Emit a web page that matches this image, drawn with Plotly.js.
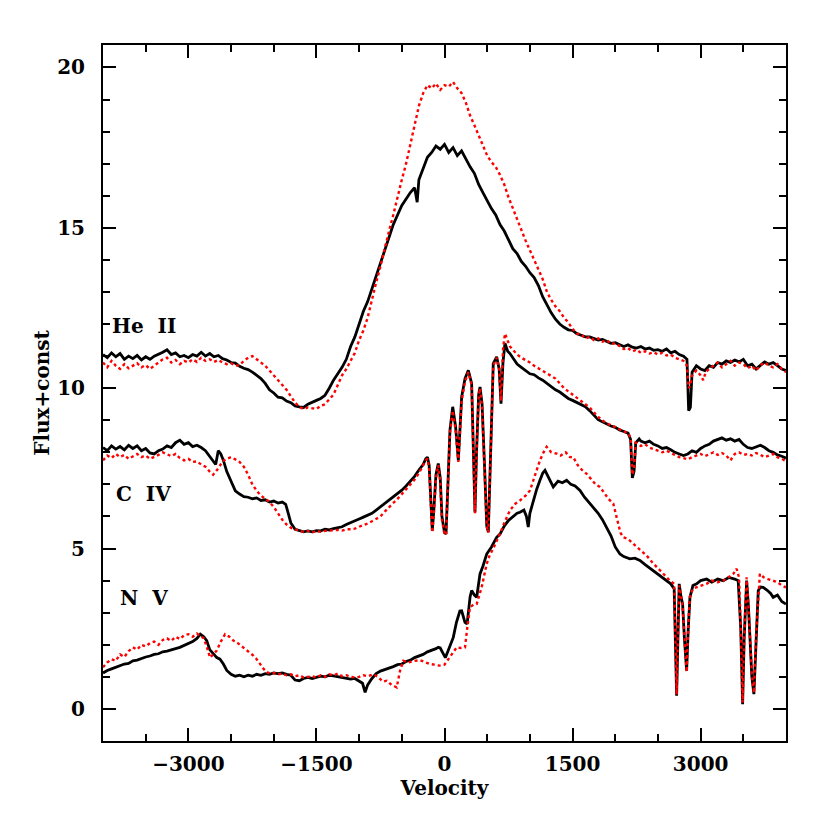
<!DOCTYPE html>
<html>
<head>
<meta charset="utf-8">
<script src="https://cdn.plot.ly/plotly-3.0.1.min.js"></script>
<style>
  html, body { margin: 0; padding: 0; background: #fff; }
  #chart { width: 830px; height: 830px; }
</style>
</head>
<body>
<div id="chart"></div>
<script>
// He II profile (upper pair)
const heVelBlack = [-4000,-3950,-3900,-3850,-3800,-3750,-3700,-3650,-3600,-3550,-3500,-3450,-3400,-3350,-3300,-3250,-3200,-3150,-3100,-3050,-3000,-2950,-2900,-2850,-2800,-2750,-2700,-2650,-2600,-2550,-2500,-2450,-2400,-2350,-2300,-2250,-2200,-2150,-2100,-2050,-2000,-1950,-1900,-1850,-1800,-1750,-1700,-1650,-1600,-1550,-1500,-1450,-1400,-1350,-1300,-1250,-1200,-1150,-1100,-1050,-1000,-950,-900,-850,-800,-750,-700,-650,-600,-550,-500,-450,-400,-350,-320,-300,-250,-200,-150,-100,-50,0,50,100,150,200,250,300,350,400,450,500,550,600,650,700,750,800,850,900,950,1000,1050,1100,1150,1200,1250,1300,1350,1400,1450,1500,1550,1600,1650,1700,1750,1800,1850,1900,1950,2000,2050,2100,2150,2200,2250,2300,2350,2400,2450,2500,2550,2600,2650,2700,2750,2800,2840,2860,2880,2900,2950,3000,3050,3100,3150,3200,3250,3300,3350,3400,3450,3500,3550,3600,3650,3700,3750,3800,3850,3900,3950,4000];
const heFluxBlack = [11.05,10.95,11.1,10.98,11.08,10.9,11.0,10.92,11.02,10.88,10.98,10.9,11.0,11.05,11.12,11.2,11.05,11.1,10.98,11.02,10.95,11.05,11.0,11.12,11.0,11.08,10.98,11.02,10.92,10.88,10.8,10.78,10.68,10.62,10.58,10.5,10.4,10.3,10.15,9.95,9.85,9.72,9.7,9.6,9.55,9.45,9.42,9.4,9.5,9.55,9.62,9.68,9.78,10.0,10.25,10.45,10.65,10.9,11.3,11.6,12.0,12.4,12.7,13.1,13.5,13.9,14.3,14.7,15.1,15.4,15.7,15.9,16.1,16.25,15.8,16.5,16.85,17.2,17.35,17.55,17.45,17.6,17.35,17.5,17.25,17.4,17.15,16.9,16.7,16.35,16.1,15.85,15.6,15.4,15.1,14.9,14.6,14.35,14.2,13.95,13.8,13.6,13.45,13.2,12.85,12.6,12.35,12.15,12.0,11.9,11.82,11.8,11.7,11.65,11.6,11.6,11.55,11.5,11.52,11.45,11.4,11.42,11.35,11.3,11.35,11.28,11.25,11.3,11.22,11.25,11.18,11.2,11.15,11.22,11.1,11.15,11.05,11.0,10.9,9.3,9.4,10.5,10.7,10.6,10.55,10.7,10.65,10.8,10.75,10.85,10.8,10.88,10.82,10.9,10.7,10.75,10.6,10.7,10.82,10.75,10.8,10.7,10.6,10.55];

const heVelRed = [-4000,-3950,-3900,-3850,-3800,-3750,-3700,-3650,-3600,-3550,-3500,-3450,-3400,-3350,-3300,-3250,-3200,-3150,-3100,-3050,-3000,-2950,-2900,-2850,-2800,-2750,-2700,-2650,-2600,-2550,-2500,-2450,-2400,-2350,-2300,-2250,-2200,-2150,-2100,-2050,-2000,-1950,-1900,-1850,-1800,-1750,-1700,-1650,-1600,-1550,-1500,-1450,-1400,-1350,-1300,-1250,-1200,-1150,-1100,-1050,-1000,-950,-900,-850,-800,-750,-700,-650,-600,-550,-500,-450,-400,-350,-300,-250,-200,-150,-100,-50,0,50,100,150,200,250,300,350,400,450,500,550,600,650,700,750,800,850,900,950,1000,1050,1100,1150,1200,1250,1300,1350,1400,1450,1500,1550,1600,1650,1700,1750,1800,1850,1900,1950,2000,2050,2100,2150,2200,2250,2300,2350,2400,2450,2500,2550,2600,2650,2700,2750,2800,2840,2860,2880,2900,2950,3000,3030,3060,3100,3150,3200,3250,3300,3350,3400,3450,3500,3550,3600,3650,3700,3750,3800,3850,3900,3950,4000];
const heFluxRed = [10.8,10.65,10.85,10.7,10.6,10.75,10.62,10.7,10.78,10.65,10.72,10.6,10.7,10.82,10.9,10.95,10.8,10.88,10.75,10.85,10.8,10.9,10.82,10.95,10.85,10.9,10.82,10.88,10.8,10.75,10.78,10.7,10.72,10.85,10.95,11.0,10.9,10.8,10.7,10.55,10.4,10.25,10.1,9.95,9.75,9.55,9.42,9.35,9.4,9.38,9.35,9.45,9.5,9.65,9.8,10.1,10.4,10.6,10.85,11.1,11.5,11.8,12.2,12.8,13.3,13.8,14.4,14.9,15.4,16.0,16.5,17.0,17.6,18.2,18.8,19.2,19.45,19.35,19.5,19.3,19.45,19.4,19.55,19.35,19.2,18.9,18.5,18.2,17.9,17.55,17.25,17.05,16.9,16.65,16.35,15.95,15.6,15.25,14.95,14.6,14.3,14.0,13.7,13.4,13.0,12.75,12.55,12.4,12.2,12.05,11.85,11.7,11.68,11.55,11.6,11.5,11.55,11.45,11.5,11.38,11.4,11.3,11.22,11.25,11.15,11.2,11.1,11.15,11.08,11.12,11.05,11.1,11.02,11.05,10.95,10.9,10.85,10.7,10.0,10.1,10.4,10.55,10.4,10.25,10.5,10.6,10.7,10.8,10.65,10.75,10.85,10.7,10.8,10.75,10.62,10.7,10.55,10.72,10.8,10.7,10.65,10.75,10.6,10.5];

// C IV profile (middle pair)
const cVelBlack = [-4000,-3950,-3900,-3850,-3800,-3750,-3700,-3650,-3600,-3550,-3500,-3450,-3400,-3350,-3300,-3250,-3200,-3150,-3100,-3050,-3000,-2950,-2900,-2850,-2800,-2750,-2700,-2680,-2650,-2620,-2590,-2550,-2500,-2450,-2400,-2350,-2300,-2250,-2200,-2150,-2100,-2050,-2000,-1950,-1900,-1860,-1830,-1800,-1750,-1700,-1650,-1600,-1550,-1500,-1450,-1400,-1350,-1300,-1250,-1200,-1150,-1100,-1050,-1000,-950,-900,-850,-800,-750,-700,-650,-600,-550,-500,-450,-400,-350,-300,-250,-220,-200,-180,-160,-143,-125,-100,-73,-50,-30,0,18,40,64,96,130,162,201,240,279,318,340,357,375,400,416,440,470,495,513,535,571,611,640,662,685,708,740,767,800,850,900,950,1000,1050,1100,1150,1200,1250,1300,1350,1400,1450,1500,1550,1600,1650,1700,1750,1800,1850,1900,1950,2000,2050,2100,2150,2180,2200,2220,2240,2280,2300,2350,2400,2450,2500,2550,2600,2650,2700,2750,2800,2850,2900,2950,3000,3050,3100,3150,3200,3250,3300,3350,3400,3450,3500,3550,3600,3650,3700,3750,3800,3850,3900,3950,4000];
const cFluxBlack = [8.15,8.05,8.2,8.1,8.18,8.08,8.22,8.12,8.2,8.05,8.12,7.98,7.95,8.05,8.1,8.2,8.15,8.3,8.38,8.25,8.3,8.18,8.22,8.15,8.05,7.88,7.7,7.62,8.05,7.95,7.75,7.4,7.1,6.8,6.7,6.62,6.6,6.55,6.58,6.5,6.52,6.45,6.48,6.42,6.45,6.38,6.1,5.8,5.6,5.55,5.52,5.55,5.52,5.56,5.55,5.6,5.58,5.62,5.65,5.68,5.75,5.8,5.85,5.92,5.98,6.05,6.1,6.2,6.3,6.4,6.5,6.6,6.7,6.82,6.95,7.1,7.25,7.45,7.62,7.8,7.85,7.6,6.5,5.56,6.2,7.3,7.65,7.2,6.0,5.5,5.46,7.0,8.69,9.42,8.8,7.75,9.73,10.3,10.56,10.15,8.0,6.13,8.0,9.8,10.04,9.5,7.5,5.7,5.51,7.5,10.77,10.98,10.6,9.52,10.8,11.4,11.15,11.08,10.95,10.75,10.65,10.55,10.45,10.42,10.32,10.25,10.15,10.05,9.95,9.88,9.78,9.68,9.62,9.55,9.5,9.42,9.3,9.15,9.02,8.95,8.88,8.82,8.78,8.7,8.65,8.6,8.4,7.2,7.4,8.3,8.42,8.35,8.3,8.35,8.25,8.2,8.12,8.15,8.08,8.0,7.95,7.9,7.95,8.05,8.0,8.12,8.2,8.25,8.35,8.4,8.45,8.38,8.42,8.35,8.4,8.25,8.15,8.12,8.18,8.22,8.15,8.05,8.0,7.92,7.88,7.82];

const cVelRed = [-4000,-3950,-3900,-3850,-3800,-3750,-3700,-3650,-3600,-3550,-3500,-3450,-3400,-3350,-3300,-3250,-3200,-3150,-3100,-3050,-3000,-2950,-2900,-2850,-2800,-2750,-2710,-2650,-2600,-2550,-2500,-2450,-2400,-2350,-2300,-2250,-2200,-2150,-2100,-2050,-2000,-1950,-1900,-1850,-1800,-1750,-1700,-1650,-1600,-1550,-1500,-1450,-1400,-1350,-1300,-1250,-1200,-1150,-1100,-1050,-1000,-950,-900,-850,-800,-750,-700,-650,-600,-550,-500,-450,-400,-350,-300,-250,-220,-200,-180,-160,-143,-125,-100,-73,-50,-30,0,18,40,64,96,130,162,201,240,279,318,340,357,375,400,416,440,470,495,513,535,571,611,640,662,685,708,740,767,800,850,900,950,1000,1050,1100,1150,1200,1250,1300,1350,1400,1450,1500,1550,1600,1650,1700,1750,1800,1850,1900,1950,2000,2050,2100,2150,2180,2200,2220,2240,2280,2300,2350,2400,2450,2500,2550,2600,2650,2700,2750,2800,2850,2900,2950,3000,3050,3100,3150,3200,3250,3300,3350,3400,3450,3500,3550,3600,3650,3700,3750,3800,3850,3900,3950,4000];
const cFluxRed = [7.75,7.9,7.82,7.95,7.85,7.92,7.8,7.88,7.95,7.85,7.9,7.8,7.85,7.92,8.0,7.95,7.88,7.95,7.82,7.75,7.8,7.7,7.72,7.62,7.55,7.4,7.3,7.5,7.72,7.8,7.85,7.78,7.7,7.55,7.3,7.0,6.8,6.65,6.55,6.45,6.3,6.1,5.9,5.75,5.65,5.6,5.55,5.52,5.55,5.5,5.55,5.52,5.55,5.56,5.55,5.58,5.56,5.6,5.6,5.62,5.68,5.72,5.78,5.85,5.92,6.0,6.15,6.3,6.42,6.55,6.7,6.85,7.0,7.15,7.35,7.6,7.75,7.8,7.5,6.4,5.5,6.1,7.2,7.6,7.1,5.9,5.45,5.42,6.9,8.6,9.3,8.7,7.7,9.6,10.2,10.5,10.1,7.9,6.1,7.9,9.7,10.0,9.4,7.4,5.7,5.5,7.4,10.7,10.95,10.6,9.6,11.2,11.7,11.5,11.3,11.2,11.05,10.95,10.88,10.8,10.7,10.62,10.55,10.45,10.38,10.3,10.15,10.0,9.9,9.8,9.7,9.6,9.52,9.4,9.25,9.1,9.0,8.9,8.85,8.78,8.72,8.65,8.6,8.45,7.3,7.5,8.3,8.25,8.2,8.25,8.15,8.1,8.05,8.0,8.05,7.98,7.9,7.85,7.82,7.78,7.85,7.9,7.95,7.88,7.95,8.0,7.92,7.98,7.9,7.75,7.95,8.0,7.92,7.95,7.9,7.98,7.92,7.85,7.9,7.95,7.85,7.8,7.72];

// N V profile (lower pair)
const nVelBlack = [-4000,-3950,-3900,-3850,-3800,-3750,-3700,-3650,-3600,-3550,-3500,-3450,-3400,-3350,-3300,-3250,-3200,-3150,-3100,-3050,-3000,-2950,-2900,-2860,-2820,-2785,-2750,-2700,-2667,-2630,-2590,-2550,-2500,-2450,-2400,-2350,-2300,-2250,-2200,-2150,-2100,-2050,-2000,-1950,-1900,-1850,-1800,-1750,-1700,-1650,-1600,-1550,-1500,-1450,-1400,-1350,-1300,-1250,-1200,-1150,-1100,-1050,-1000,-960,-930,-900,-850,-800,-750,-700,-650,-600,-550,-500,-450,-400,-350,-300,-250,-200,-150,-100,-73,-50,-20,10,40,80,103,140,180,201,240,265,300,318,350,377,416,450,494,550,611,650,700,750,800,850,884,930,960,981,1000,1040,1080,1118,1150,1177,1220,1274,1330,1380,1431,1480,1530,1587,1640,1690,1743,1800,1850,1899,1950,2000,2055,2100,2172,2230,2289,2350,2400,2445,2500,2550,2602,2650,2690,2705,2719,2734,2749,2770,2789,2810,2836,2855,2875,2910,2953,3000,3070,3130,3200,3265,3330,3400,3440,3470,3492,3510,3539,3560,3577,3600,3624,3650,3675,3700,3733,3780,3820,3850,3900,3950,4000];
const nFluxBlack = [1.12,1.2,1.25,1.3,1.35,1.4,1.42,1.5,1.52,1.58,1.62,1.65,1.7,1.72,1.78,1.8,1.85,1.88,1.92,1.98,2.02,2.1,2.2,2.33,2.25,2.13,1.85,1.7,1.6,1.55,1.4,1.2,1.08,1.02,1.05,1.0,1.05,1.02,1.08,1.05,1.1,1.08,1.12,1.1,1.12,1.08,1.05,0.9,0.88,0.95,0.98,0.95,0.98,1.02,1.0,1.05,1.03,1.0,0.98,0.95,0.93,0.95,0.88,0.8,0.52,0.75,0.95,1.1,1.18,1.22,1.28,1.32,1.38,1.4,1.48,1.52,1.6,1.65,1.7,1.78,1.82,1.88,1.92,1.9,1.75,1.6,1.8,2.1,2.23,2.7,3.05,3.06,2.7,2.65,3.5,3.69,3.55,3.48,4.21,4.45,4.83,5.05,5.35,5.45,5.7,5.88,6.0,6.1,6.13,6.2,6.0,5.67,6.1,6.5,6.85,7.13,7.35,7.44,7.2,6.92,7.1,7.05,7.13,7.0,6.95,6.81,6.6,6.45,6.29,6.1,5.9,5.67,5.4,5.05,4.83,4.75,4.68,4.7,4.63,4.5,4.4,4.31,4.2,4.1,4.0,3.9,3.75,2.0,0.41,2.2,3.9,3.5,3.27,2.2,1.19,2.5,3.48,3.85,3.9,4.0,4.05,3.95,4.05,4.0,4.1,4.05,4.0,2.5,0.15,2.2,4.0,3.2,2.33,1.0,0.46,2.2,3.69,3.8,3.79,3.7,3.6,3.48,3.55,3.35,3.27];

const nVelRed = [-4000,-3950,-3900,-3850,-3800,-3750,-3700,-3650,-3600,-3550,-3500,-3450,-3400,-3350,-3300,-3250,-3200,-3150,-3100,-3050,-3000,-2950,-2900,-2860,-2820,-2780,-2746,-2710,-2670,-2620,-2570,-2520,-2473,-2420,-2356,-2300,-2239,-2200,-2161,-2120,-2083,-2040,-2000,-1950,-1900,-1850,-1800,-1750,-1700,-1650,-1600,-1550,-1500,-1450,-1400,-1350,-1300,-1250,-1200,-1150,-1100,-1050,-1000,-950,-900,-834,-780,-720,-677,-620,-580,-560,-520,-482,-420,-350,-287,-220,-170,-120,-60,0,60,100,143,190,240,270,299,340,377,435,494,530,571,650,700,767,830,884,950,1001,1060,1118,1160,1197,1250,1314,1360,1420,1470,1508,1560,1610,1665,1720,1770,1821,1870,1920,1977,2030,2060,2094,2150,2211,2290,2368,2440,2524,2580,2641,2690,2705,2719,2734,2749,2770,2789,2810,2836,2855,2875,2910,2953,3000,3070,3130,3200,3265,3330,3380,3421,3450,3470,3492,3510,3539,3560,3577,3600,3624,3650,3694,3740,3790,3850,3900,3950,4000];
const nFluxRed = [1.3,1.45,1.55,1.5,1.7,1.62,1.8,1.92,1.85,2.0,1.95,2.05,2.1,2.0,2.15,2.2,2.12,2.25,2.18,2.3,2.33,2.25,2.35,2.28,2.2,1.9,1.6,1.7,1.81,2.1,2.33,2.25,2.13,2.05,1.92,1.8,1.66,1.55,1.4,1.25,1.15,1.1,1.12,1.08,1.1,1.05,1.08,1.02,1.05,0.98,1.0,1.02,0.98,1.05,1.0,1.08,1.05,1.1,1.02,1.05,1.0,0.98,1.0,1.05,1.02,1.08,1.0,0.85,0.88,0.75,0.7,0.67,1.2,1.5,1.45,1.5,1.52,1.45,1.4,1.38,1.35,1.38,1.6,1.75,1.92,1.9,1.92,2.6,3.17,3.25,3.27,3.79,4.52,4.8,5.0,5.46,5.8,6.19,6.4,6.5,6.65,6.81,7.3,7.75,8.0,8.17,8.0,7.96,7.9,8.0,7.85,7.85,7.6,7.45,7.33,7.15,7.0,6.92,6.75,6.55,6.4,5.8,5.5,5.35,5.3,5.15,4.95,4.78,4.55,4.31,4.15,4.0,3.9,2.0,0.45,2.3,3.85,3.55,3.2,2.3,1.15,2.6,3.5,3.75,3.79,3.85,3.9,4.0,3.95,4.0,4.1,4.2,4.37,4.1,2.5,0.2,2.2,4.1,3.2,2.4,1.1,0.5,2.3,4.21,4.1,4.05,4.0,3.95,3.85,3.79];

// line labels
const lineNames = ['He\u00a0 II', 'C\u00a0 IV', 'N\u00a0 V'];
const labelVel = [-3520, -3520, -3520];
const labelFlux = [11.95, 6.7, 3.45];

const boldFont = {family: 'DejaVu Serif, serif', size: 20, color: '#000', weight: 'bold'};

function blackTrace(x, y) {
    return {
        x: x, y: y, type: 'scatter', mode: 'lines',
        line: {color: '#000', width: 2.8},
        hoverinfo: 'skip', showlegend: false
    };
}

function redTrace(x, y) {
    return {
        x: x, y: y, type: 'scatter', mode: 'lines',
        line: {color: '#ff0000', width: 2.4, dash: 'dot'},
        hoverinfo: 'skip', showlegend: false
    };
}

const traces = [
    blackTrace(heVelBlack, heFluxBlack),
    blackTrace(cVelBlack, cFluxBlack),
    blackTrace(nVelBlack, nFluxBlack),
    redTrace(heVelRed, heFluxRed),
    redTrace(cVelRed, cFluxRed),
    redTrace(nVelRed, nFluxRed)
];

const annotations = lineNames.map((t, i) => ({
    x: labelVel[i], y: labelFlux[i], text: t, showarrow: false,
    xanchor: 'center', yanchor: 'middle', font: boldFont
}));

const axisCommon = {
    showline: true, linecolor: '#000', linewidth: 2, mirror: 'ticks',
    ticks: 'inside', ticklen: 13, tickwidth: 2, tickcolor: '#000',
    showgrid: false, zeroline: false,
    tickfont: boldFont
};

const layout = {
    width: 830, height: 830,
    margin: {l: 103, r: 44, t: 45, b: 89},
    paper_bgcolor: '#fff', plot_bgcolor: '#fff',
    showlegend: false,
    xaxis: Object.assign({}, axisCommon, {
        range: [-4000, 4000], tick0: 0, dtick: 1500,
        minor: {dtick: 500, tick0: 0, ticks: 'inside', ticklen: 7, tickwidth: 2, tickcolor: '#000'},
        ticklabelstandoff: 4,
        title: {text: 'Velocity', font: boldFont, standoff: 2}
    }),
    yaxis: Object.assign({}, axisCommon, {
        range: [-1, 20.7], tick0: 0, dtick: 5,
        minor: {dtick: 1, tick0: 0, ticks: 'inside', ticklen: 7, tickwidth: 2, tickcolor: '#000'},
        ticklabelstandoff: 12,
        title: {text: 'Flux+const', font: boldFont, standoff: 2}
    }),
    annotations: annotations
};

Plotly.newPlot('chart', traces, layout, {displayModeBar: false, staticPlot: true});
</script>
</body>
</html>
